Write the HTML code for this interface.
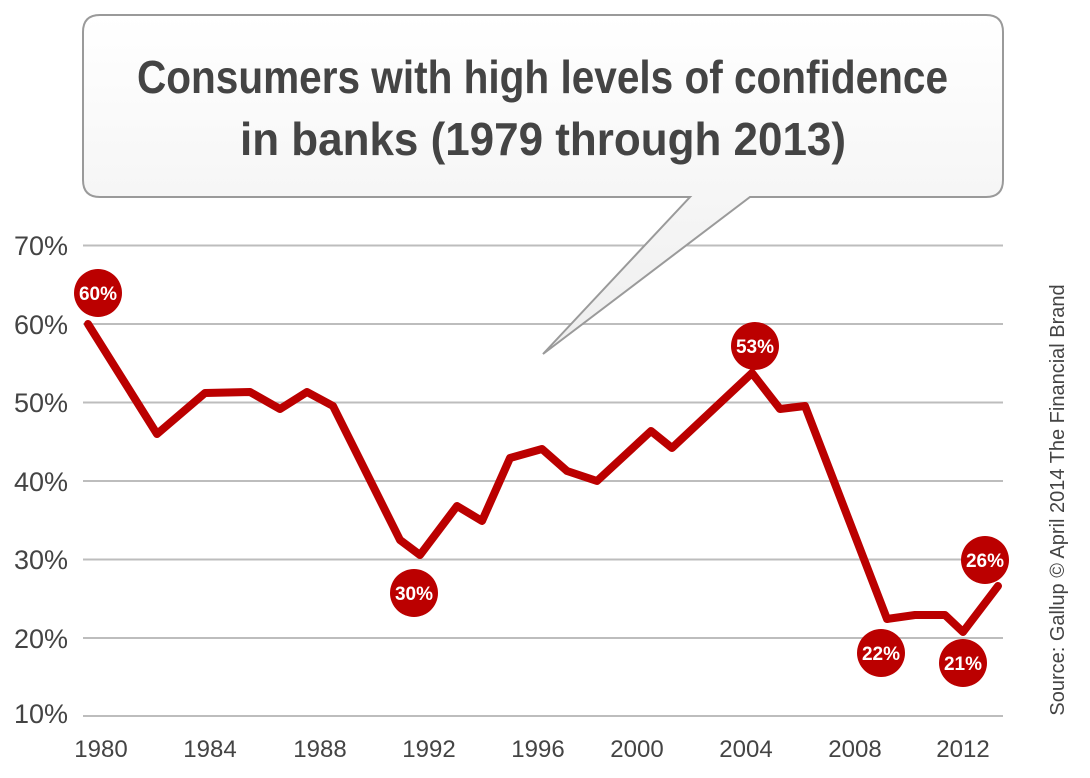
<!DOCTYPE html>
<html><head><meta charset="utf-8"><style>
html,body{margin:0;padding:0;background:#fff;}
svg text{font-family:"Liberation Sans Narrow","Liberation Sans",sans-serif;}
</style></head><body>
<svg width="1090" height="773" viewBox="0 0 1090 773" xmlns="http://www.w3.org/2000/svg">
<defs><linearGradient id="g" x1="0" y1="0" x2="0" y2="1"><stop offset="0" stop-color="#ffffff"/><stop offset="1" stop-color="#eeeeee"/></linearGradient></defs>
<g stroke="#bdbdbd" stroke-width="2">
<line x1="83" y1="245.5" x2="1003" y2="245.5"/>
<line x1="83" y1="324" x2="1003" y2="324"/>
<line x1="83" y1="402.5" x2="1003" y2="402.5"/>
<line x1="83" y1="481" x2="1003" y2="481"/>
<line x1="83" y1="559.5" x2="1003" y2="559.5"/>
<line x1="83" y1="638" x2="1003" y2="638"/>
<line x1="83" y1="716" x2="1003" y2="716"/>
</g>
<g font-size="27" fill="#444" text-anchor="end">
<text x="68" y="255">70%</text><text x="68" y="334">60%</text><text x="68" y="412">50%</text>
<text x="68" y="491">40%</text><text x="68" y="569">30%</text><text x="68" y="648">20%</text><text x="68" y="723">10%</text>
</g>
<g font-size="24" fill="#444" text-anchor="middle">
<text x="101" y="757">1980</text><text x="210" y="757">1984</text><text x="320" y="757">1988</text><text x="429" y="757">1992</text>
<text x="538" y="757">1996</text><text x="637" y="757">2000</text><text x="746" y="757">2004</text><text x="855" y="757">2008</text><text x="963" y="757">2012</text>
</g>
<path d="M100,197 Q83,197 83,180 V32 Q83,15 100,15 H986 Q1003,15 1003,32 V180 Q1003,197 986,197 H750 L543,354 L690,197 Z" fill="url(#g)" stroke="#9a9a9a" stroke-width="2"/>
<g font-size="46" font-weight="bold" fill="#444">
<text x="137" y="93" textLength="811" lengthAdjust="spacingAndGlyphs">Consumers with high levels of confidence</text>
<text x="240" y="155" textLength="606" lengthAdjust="spacingAndGlyphs">in banks (1979 through 2013)</text>
</g>
<polyline fill="none" stroke="#bb0000" stroke-width="8" stroke-linejoin="round" stroke-linecap="round" points="88,324 157,434 205,393 250,392 280,409 307,392 333,406 400,540 420,555 457,506 482,521 510,458 542,449 567,471 597,481 651,431 672,448 752,373 780,409 805,406 887,619 915,615 945,615 963,632 998,586"/>
<g fill="#bb0000">
<circle cx="98" cy="293" r="24"/><circle cx="414" cy="593" r="24"/><circle cx="755" cy="346" r="24"/>
<circle cx="881" cy="653" r="24"/><circle cx="963" cy="663" r="24"/><circle cx="985" cy="560" r="24"/>
</g>
<g font-size="19" font-weight="bold" fill="#fff" text-anchor="middle">
<text x="98" y="300">60%</text><text x="414" y="600">30%</text><text x="755" y="353">53%</text>
<text x="881" y="660">22%</text><text x="963" y="670">21%</text><text x="985" y="567">26%</text>
</g>
<text transform="translate(1064,500) rotate(-90)" font-size="20" fill="#444" text-anchor="middle">Source: Gallup © April 2014 The Financial Brand</text>
</svg>
</body></html>
